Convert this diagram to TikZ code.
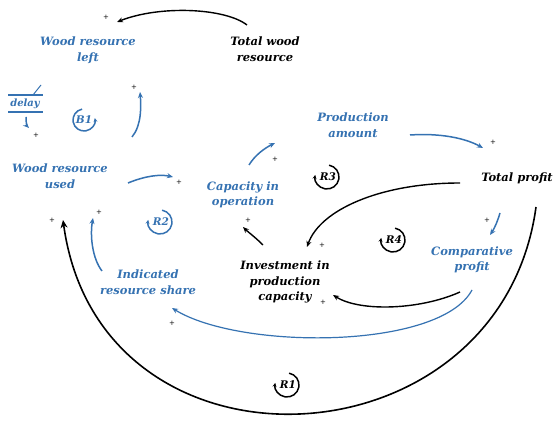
\documentclass[tikz,border=0pt]{standalone}
\usepackage{fontspec}
\setmainfont{DejaVu Serif}
\usetikzlibrary{arrows.meta,calc}
\definecolor{lblue}{HTML}{3572B2}
\begin{document}
\begin{tikzpicture}[x=1pt,y=1pt,
  lab/.style={font=\fontsize{11.5}{15.5}\selectfont\bfseries\itshape, align=center, inner sep=1pt},
  bl/.style={lab, text=lblue},
  bk/.style={lab, text=black},
  sym/.style={font=\fontsize{10.5}{11}\selectfont\bfseries\itshape, inner sep=0pt},
  pol/.style={font=\scriptsize, inner sep=0pt},
  barr/.style={draw=lblue, line width=1.5pt, -{Stealth[length=6pt,width=5pt]}},
  karr/.style={draw=black, line width=1.4pt, -{Stealth[length=6pt,width=5pt]}},
  loopk/.style={line width=1.5pt, -{Stealth[length=4pt,width=4pt]}},
]
\useasboundingbox (0,0) rectangle (559,433);
\fill[white] (0,0) rectangle (559,433);

% nodes
\node[bl] (wrl) at (88,383) {Wood resource\\left};
\node[bk] (twr) at (265,384) {Total wood\\resource};
\node[bl] (wru) at (60,257) {Wood resource\\used};
\node[bl] (cio) at (243,238) {Capacity in\\operation};
\node[bl] (pa)  at (353,308) {Production\\amount};
\node[bk] (tp)  at (517,255) {Total profit};
\node[bl] (cp)  at (472,173) {Comparative\\profit};
\node[bk] (ipc) at (285,151) {Investment in\\production\\capacity};
\node[bl] (irs) at (148,151) {Indicated\\resource share};
\node[bl, font=\fontsize{10}{11}\selectfont\bfseries\itshape] (dl) at (25,329) {delay};

% connector end points
\coordinate (a1s) at (247,408); \coordinate (a1e) at (117,411);
\coordinate (a4s) at (132,296); \coordinate (a4e) at (140,341);
\coordinate (a5s) at (128,250); \coordinate (a5e) at (173,256);
\coordinate (a6s) at (249,268); \coordinate (a6e) at (275,290);
\coordinate (a7s) at (410,298); \coordinate (a7e) at (483,285);
\coordinate (a8s) at (460,250); \coordinate (a8e) at (307,186);
\coordinate (a9s) at (263,188); \coordinate (a9e) at (243,206);
\coordinate (a10s) at (500,220); \coordinate (a10e) at (490,198);
\coordinate (a11s) at (460,141); \coordinate (a11e) at (333,138);
\coordinate (a12s) at (472,143); \coordinate (a12e) at (172,125);
\coordinate (a13s) at (536,226); \coordinate (a13e) at (63,213);
\coordinate (a14s) at (102,162); \coordinate (a14e) at (93,215);
\coordinate (dls) at (26,316); \coordinate (dle) at (29,305);

% connectors
\draw[karr] (a1s) .. controls (225,425) and (160,428) .. (a1e);
\draw[barr] (a4s) .. controls (142,308) and (141,328) .. (a4e);
\draw[barr] (a5s) .. controls (145,257) and (160,259) .. (a5e);
\draw[barr] (a6s) .. controls (255,278) and (265,285) .. (a6e);
\draw[barr] (a7s) .. controls (440,300) and (465,295) .. (a7e);
\draw[karr] (a8s) .. controls (380,250) and (320,223) .. (a8e);
\draw[karr] (a9s) .. controls (255,196) and (248,201) .. (a9e);
\draw[barr] (a10s) .. controls (497,210) and (494,204) .. (a10e);
\draw[karr] (a11s) .. controls (420,123) and (360,121) .. (a11e);
\draw[barr, line width=1.2pt] (a12s) .. controls (440,83) and (240,83) .. (a12e);
\draw[karr, line width=1.6pt, -{Stealth[length=8pt,width=7pt]}] (a13s) .. controls (500,-37) and (100,-57) .. (a13e);
\draw[barr] (a14s) .. controls (92,175) and (90,198) .. (a14e);

% delay mark
\draw[lblue, line width=1.3pt] (8,338) -- (43,338);
\draw[lblue, line width=1.3pt] (8,321) -- (43,321);
\draw[lblue, line width=1pt] (33,338) -- (41,348);
\draw[barr] (dls) .. controls (26,310) and (27,307) .. (dle);

% polarity signs
\node[pol] at (106,416) {+};
\node[pol] at (36,298) {+};
\node[pol] at (134,346) {+};
\node[pol] at (179,251) {+};
\node[pol] at (275,274) {+};
\node[pol] at (493,291) {+};
\node[pol] at (322,188) {+};
\node[pol] at (248,213) {+};
\node[pol] at (487,213) {+};
\node[pol] at (323,131) {+};
\node[pol] at (172,110) {+};
\node[pol] at (52,213) {+};
\node[pol] at (99,221) {+};

% loop symbols
\draw[lblue, loopk] ($(84,313)+(100:11)$) arc[start angle=100, end angle=370, radius=11];
\node[sym, text=lblue] at (84,313) {B1};
\draw[lblue, loopk] ($(160,211)+(80:12)$) arc[start angle=80, end angle=-190, radius=12];
\node[sym, text=lblue] at (161,211) {R2};
\draw[loopk] ($(327,256)+(80:12)$) arc[start angle=80, end angle=-190, radius=12];
\node[sym] at (328,256) {R3};
\draw[loopk] ($(393,193)+(80:12)$) arc[start angle=80, end angle=-190, radius=12];
\node[sym] at (394,193) {R4};
\draw[loopk] ($(287,48)+(80:12)$) arc[start angle=80, end angle=-190, radius=12];
\node[sym] at (288,48) {R1};
\end{tikzpicture}
\end{document}
